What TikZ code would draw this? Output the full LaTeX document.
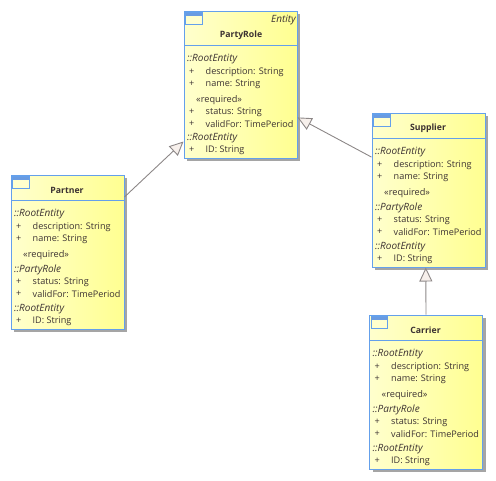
\documentclass[tikz,border=0pt]{standalone}
\usepackage{fontspec}
\setmainfont{Open Sans}
\usepackage{xcolor}
\usetikzlibrary{arrows.meta}
\usetikzlibrary{shadows}
\definecolor{umlblue}{RGB}{100, 160, 235}
\definecolor{umlband}{RGB}{105, 155, 225}
\definecolor{umlpale}{RGB}{255, 255, 205}
\definecolor{umlyellow}{RGB}{255, 255, 145}
\definecolor{umlshadow}{RGB}{165, 165, 165}
\definecolor{umltext}{RGB}{60, 50, 50}
\definecolor{umlhead}{RGB}{247, 240, 236}
\definecolor{umlline}{RGB}{140, 135, 135}

% Rows shared by the three subclasses, offsets from the box corner
\newcommand{\memberrows}[1]{
  \foreach \rowid/\rowx/\rowy/\rowstyle/\rowtext in {
    a/3/39/group/::RootEntity, b/5/52/member/+, c/21.5/52/member/description: String,
    d/5/64/member/+, e/21.5/64/member/name: String, f/12/80/stereo/«required»,
    g/3/95/group/::PartyRole, h/5/107/member/+, i/21.5/107/member/status: String,
    j/5/119/member/+, k/21.5/119/member/validFor: TimePeriod,
    l/3/134/group/::RootEntity, m/5/146/member/+, n/21.5/146/member/ID: String}
    \node[\rowstyle] (#1-\rowid) at (\rowx,\rowy) {\rowtext};
}
% Small class icon and the line below the title
\newcommand{\classhead}[1]{
  \draw[iconline, fill=umlpale] (1.5,1.5) rectangle (18,13.5);
  \fill[umlband] (1.5,1.5) rectangle (18,4.5);
  \draw[boxline] (0,#1) -- (113,#1);
}

\begin{document}
\begin{tikzpicture}[
  x=1pt, y=-1pt,
  classbox/.style={rectangle, draw=umlblue, line width=1pt, left color=umlpale, right color=umlyellow, minimum width=113pt, minimum height=154pt, inner sep=0pt, drop shadow={shadow xshift=3pt, shadow yshift=-3pt, fill=umlshadow, opacity=1}},
  boxline/.style={draw=umlblue, line width=0.8pt},
  iconline/.style={draw=umlblue, line width=0.8pt},
  member/.style={anchor=west, inner sep=0pt, text=umltext, font=\fontsize{9.1}{11}\selectfont},
  group/.style={member, font=\fontsize{10}{11}\selectfont\itshape},
  stereo/.style={member, font=\fontsize{9.2}{11}\selectfont},
  title/.style={anchor=center, inner sep=0pt, text=umltext, font=\fontsize{8.7}{11}\selectfont\bfseries},
  arrow/.style={-{Triangle[open, fill=umlhead, length=14pt, width=13pt]}, draw=umlline, line width=0.9pt}
]
\useasboundingbox (0,0) rectangle (496,480);

% Boxes
\node[classbox, minimum height=147pt] (partyrole) at (240.5,84.5) {};
\node[classbox] (partner)  at (67.5,252) {};
\node[classbox] (supplier) at (428.5,190) {};
\node[classbox] (carrier)  at (426,392) {};

% PartyRole
\begin{scope}[shift={(184,11)}]
  \classhead{34}
  \node[group, anchor=east] (partyrole-stereo) at (112,9) {Entity};
  \node[title] (partyrole-title) at (57,24) {PartyRole};
  \foreach \rowid/\rowx/\rowy/\rowstyle/\rowtext in {
    a/3/48.5/group/::RootEntity, b/5/61/member/+, c/21.5/61/member/description: String,
    d/5/73/member/+, e/21.5/73/member/name: String, f/12/89/stereo/«required»,
    h/5/101/member/+, i/21.5/101/member/status: String,
    j/5/113/member/+, k/21.5/113/member/validFor: TimePeriod,
    l/3/127/group/::RootEntity, m/5/139/member/+, n/21.5/139/member/ID: String}
    \node[\rowstyle] (partyrole-\rowid) at (\rowx,\rowy) {\rowtext};
\end{scope}

% Partner
\begin{scope}[shift={(11,175)}]
  \classhead{25}
  \node[title] (partner-title) at (56,15) {Partner};
  \memberrows{partner}
\end{scope}

% Supplier
\begin{scope}[shift={(372,113)}]
  \classhead{25}
  \node[title] (supplier-title) at (56,15) {Supplier};
  \memberrows{supplier}
\end{scope}

% Carrier
\begin{scope}[shift={(369.5,315)}]
  \classhead{25}
  \node[title] (carrier-title) at (56,15) {Carrier};
  \memberrows{carrier}
\end{scope}

% Generalisations
\draw[arrow] (partner.44)   -- (partyrole.225);
\draw[arrow] (supplier.150) -- (partyrole.-30);
\draw[arrow] (carrier.north) -- (supplier.268);

\end{tikzpicture}
\end{document}
